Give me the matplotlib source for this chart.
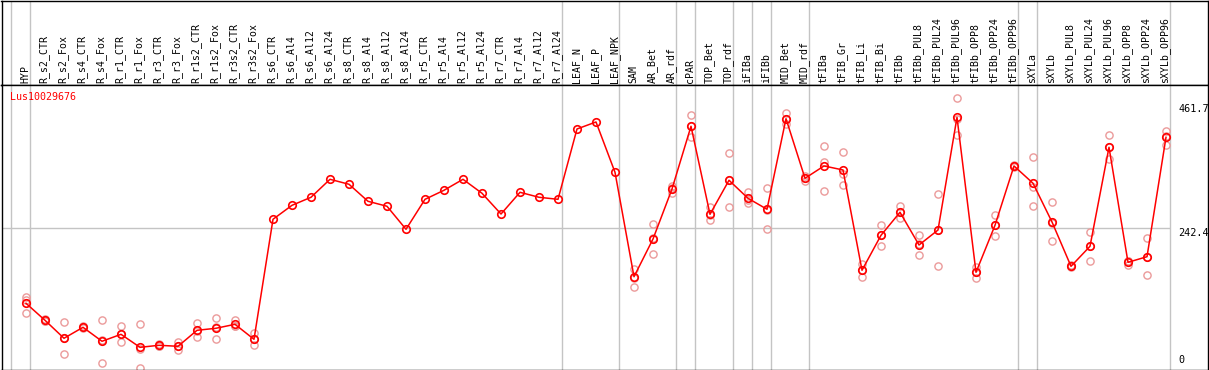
import numpy as np
import matplotlib
matplotlib.use("Agg")
import matplotlib.pyplot as plt
import matplotlib.transforms as mtransforms

gene = "Lus10029676"

categories = [
    "HYP", "R_s2_CTR", "R_s2_Fox", "R_s4_CTR", "R_s4_Fox", "R_r1_CTR", "R_r1_Fox",
    "R_r3_CTR", "R_r3_Fox", "R_r1s2_CTR", "R_r1s2_Fox", "R_r3s2_CTR", "R_r3s2_Fox",
    "R_s6_CTR", "R_s6_Al4", "R_s6_Al12", "R_s6_Al24", "R_s8_CTR", "R_s8_Al4",
    "R_s8_Al12", "R_s8_Al24", "R_r5_CTR", "R_r5_Al4", "R_r5_Al12", "R_r5_Al24",
    "R_r7_CTR", "R_r7_Al4", "R_r7_Al12", "R_r7_Al24", "LEAF_N", "LEAF_P", "LEAF_NPK",
    "SAM", "AR_Bet", "AR_rdf", "cPAR", "TOP_Bet", "TOP_rdf", "iFIBa", "iFIBb",
    "MID_Bet", "MID_rdf", "tFIBa", "tFIB_Gr", "tFIB_Li", "tFIB_Bi", "tFIBb",
    "tFIBb_PUL8", "tFIBb_PUL24", "tFIBb_PUL96", "tFIBb_OPP8", "tFIBb_OPP24",
    "tFIBb_OPP96", "sXYLa", "sXYLb", "sXYLb_PUL8", "sXYLb_PUL24", "sXYLb_PUL96",
    "sXYLb_OPP8", "sXYLb_OPP24", "sXYLb_OPP96",
]

means = [
    109.7, 79.6, 47.8, 67.2, 42.5, 54.8, 31.8, 35.4, 33.6, 61.9,
    65.5, 72.5, 46.0, 258.3, 283.0, 297.2, 329.0, 320.2, 290.1, 281.3,
    240.6, 293.6, 309.6, 329.0, 304.3, 267.6, 306.0, 297.2, 293.6, 418.0,
    430.4, 341.4, 156.7, 223.4, 311.9, 422.8, 267.1, 327.3, 295.4, 276.0,
    436.2, 330.8, 352.6, 345.5, 168.1, 230.0, 270.7, 212.8, 239.3, 438.7,
    164.5, 247.7, 352.6, 322.0, 253.5, 175.1, 210.5, 385.6, 182.2, 192.1,
    403.3,
]

nan = float("nan")
rep1 = [
    120.8, 82.0, 76.1, 69.0, 79.6, 69.0, 72.5, 37.0, 40.7, 74.8,
    83.1, 79.6, 56.6, nan, nan, nan, nan, nan, nan, nan,
    nan, nan, nan, nan, nan, nan, nan, nan, nan, nan,
    nan, nan, 169.8, 249.4, 317.7, 442.2, 279.5, 375.0, 307.1, 313.1,
    446.3, 335.4, 387.9, 376.8, 178.7, 248.2, 281.8, 230.0, 303.0, 472.3,
    174.4, 265.9, 355.0, 368.5, 288.9, 177.0, 235.8, 406.9, 185.0, 224.7,
    413.9,
]
rep2 = [
    115.0, 79.0, 47.8, 67.0, 44.4, 54.8, 28.0, 35.0, 33.6, 61.4,
    67.4, 69.0, 46.0, nan, nan, nan, nan, nan, nan, nan,
    nan, nan, nan, nan, nan, nan, nan, nan, nan, nan,
    nan, nan, 153.9, 224.4, 313.7, 422.8, 265.3, 327.3, 292.5, 274.3,
    435.4, 330.8, 360.2, 337.9, 169.0, 231.3, 270.3, 213.8, 239.8, 436.4,
    165.2, 249.0, 352.6, 314.9, 251.7, 175.1, 211.2, 385.5, 184.6, 192.4,
    406.0,
]
rep3 = [
    93.1, 78.0, 19.5, 66.0, 3.5, 40.7, -5.0, 34.0, 26.5, 49.5,
    46.0, 69.0, 35.4, nan, nan, nan, nan, nan, nan, nan,
    nan, nan, nan, nan, nan, nan, nan, nan, nan, nan,
    nan, nan, 138.5, 196.4, 304.3, 403.3, 256.5, 279.5, 286.6, 240.6,
    426.9, 325.5, 307.8, 318.4, 156.7, 210.5, 260.0, 194.6, 175.1, 407.4,
    153.9, 228.2, 350.0, 281.8, 219.9, 173.0, 184.5, 364.4, 177.0, 159.2,
    390.2,
]

group_starts = [0, 1, 29, 32, 35, 36, 38, 39, 40, 42, 53, 54, 61]
ytick_values = [0, 242.4, 461.7]
ytick_labels = ["0", "242.4", "461.7"]

W, H = 1209, 370
fig = plt.figure(figsize=(W / 100, H / 100), dpi=100)
fig.patch.set_facecolor("white")

def fx(px):
    return px / W

def fy(py):
    return 1 - py / H

x_left, x_right = -1.2895, 62.184
grey = "#c4c4c4"
mono = "DejaVu Sans Mono"

# header axes
hax = fig.add_axes([fx(1.5), fy(85), fx(1206), (85 - 0.5) / H])
hax.set_xlim(x_left, x_right)
hax.set_ylim(0, 1)
hax.set_xticks([])
hax.set_yticks([])
for s in hax.spines.values():
    s.set_color("black")
    s.set_linewidth(1.0)

# main axes
ax = fig.add_axes([fx(1.5), fy(369.5), fx(1206), (369.5 - 85) / H])
ax.set_xlim(x_left, x_right)
ax.set_ylim(-7.43, 495.8)
ax.set_xticks([])
ax.set_yticks([])
for s in ax.spines.values():
    s.set_color("black")
    s.set_linewidth(1.0)

sep_x = [g - 0.79 for g in group_starts]
for xv in sep_x:
    ax.axvline(xv, color=grey, lw=1.0, zorder=1)
    hax.axvline(xv, color=grey, lw=1.0, zorder=1)

ax.hlines(ytick_values[1], x_left, sep_x[-1], color=grey, lw=1.0, zorder=1)

x = np.arange(len(categories))
for reps in (rep1, rep2, rep3):
    ax.plot(x, reps, linestyle="none", marker="o", markersize=5.2,
            markerfacecolor="none", markeredgecolor="#eb9a9a",
            markeredgewidth=1.0, zorder=2)

ax.plot(x, means, color="red", lw=1.1, marker="o", markersize=5.4,
        markerfacecolor="none", markeredgecolor="red", markeredgewidth=1.2,
        zorder=3)

# header labels
trans = mtransforms.blended_transform_factory(hax.transData, fig.transFigure)
for i, lab in enumerate(categories):
    fig.text(i - 0.05, fy(83), lab, rotation=90, ha="center", va="bottom",
             fontsize=7.1, family=mono, color="black", transform=trans)

# gene name
fig.text(fx(10), fy(97.3), gene, color="red", fontsize=7.2, family=mono,
         ha="left", va="center")

# right value labels
ytrans = mtransforms.blended_transform_factory(fig.transFigure, ax.transData)
for v, lab in zip(ytick_values, ytick_labels):
    va = "bottom" if v == 0 else "top"
    ax.text(fx(1178.5), v, lab, fontsize=7.3, family=mono, color="black",
            ha="left", va=va, transform=ytrans, clip_on=False)

fig.savefig("out.png", dpi=100, facecolor="white")
